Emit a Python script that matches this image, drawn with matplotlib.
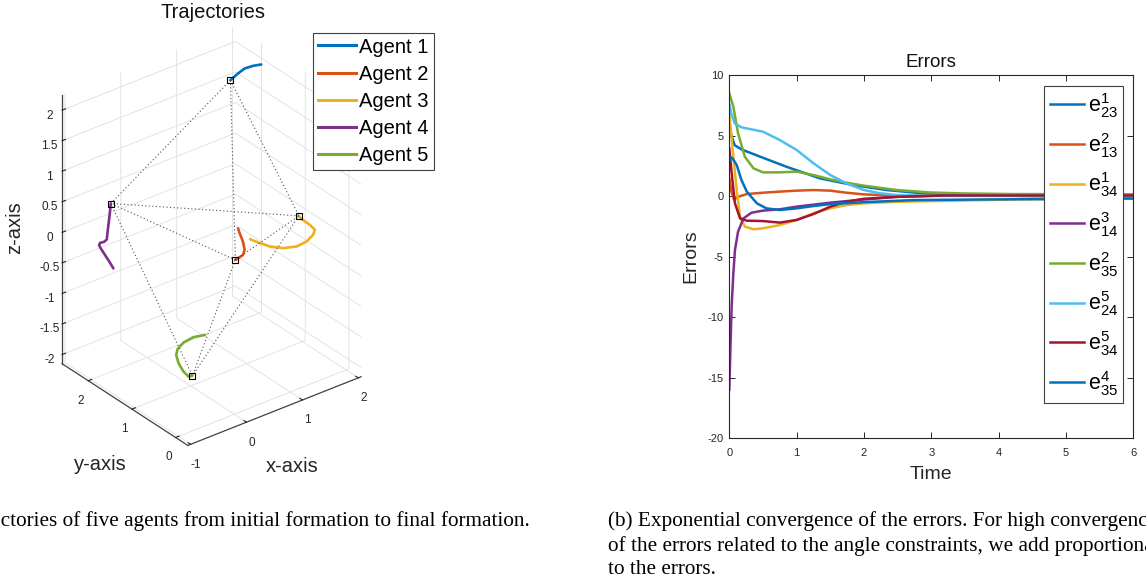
import numpy as np
import matplotlib
matplotlib.use('Agg')
import matplotlib.pyplot as plt
from matplotlib.lines import Line2D
from matplotlib.ticker import FuncFormatter

plt.rcParams['font.family'] = ['Liberation Sans', 'DejaVu Sans']
plt.rcParams['mathtext.fontset'] = 'custom'
plt.rcParams['mathtext.rm'] = 'Liberation Sans'
plt.rcParams['mathtext.it'] = 'Liberation Sans'
plt.rcParams['mathtext.bf'] = 'Liberation Sans:bold'
plt.rcParams['axes.unicode_minus'] = False
plt.rcParams['grid.color'] = '#e3e3e3'
plt.rcParams['grid.linewidth'] = 0.7
plt.rcParams['grid.linestyle'] = '-'

W, H = 1146, 582

# ---------------- data: trajectories (left) ----------------
agent_labels = ['Agent 1', 'Agent 2', 'Agent 3', 'Agent 4', 'Agent 5']
agent_colors = ['#0072BD', '#D95319', '#EDB120', '#7E2F8E', '#77AC30']

agent1_x = [1.889, 1.740, 1.592, 1.472, 1.337]
agent1_y = [1.80, 1.80, 1.80, 1.80, 1.80]
agent1_z = [2.053, 2.084, 2.095, 2.057, 1.996]

agent2_x = [1.496, 1.526, 1.585, 1.615, 1.585, 1.496, 1.449]
agent2_y = [1.83, 1.83, 1.83, 1.83, 1.83, 1.83, 1.83]
agent2_z = [-0.499, -0.592, -0.750, -0.897, -0.968, -0.990, -1.000]

agent3_x = [0.673, 0.821, 1.029, 1.266, 1.505, 1.684, 1.801, 1.832, 1.742, 1.594, 1.546]
agent3_y = [0.50, 0.50, 0.50, 0.50, 0.50, 0.50, 0.50, 0.50, 0.50, 0.50, 0.50]
agent3_z = [0.238, 0.129, -0.011, -0.123, -0.183, -0.166, -0.099, -0.028, 0.086, 0.232, 0.304]

agent4_x = [-0.492, -0.551, -0.640, -0.717, -0.747, -0.729, -0.658, -0.610, -0.592, -0.563, -0.538]
agent4_y = [2.14, 2.14, 2.14, 2.14, 2.14, 2.14, 2.14, 2.14, 2.14, 2.14, 2.14]
agent4_z = [-0.579, -0.466, -0.308, -0.171, -0.106, -0.075, -0.084, -0.063, 0.083, 0.290, 0.500]

agent5_x = [0.258, 0.050, -0.128, -0.235, -0.258, -0.217, -0.128, -0.039, 0.032]
agent5_y = [1.00, 1.00, 1.00, 1.00, 1.00, 1.00, 1.00, 1.00, 1.00]
agent5_z = [-1.409, -1.371, -1.395, -1.464, -1.549, -1.699, -1.869, -1.983, -1.997]

# final formation (last point of each trajectory) and its edges
final_x = [1.337, 1.449, 1.546, -0.538, 0.032]
final_y = [1.80, 1.83, 0.50, 2.14, 1.00]
final_z = [1.996, -1.000, 0.304, 0.500, -1.997]
formation_edges = [(0, 1), (0, 2), (0, 3), (1, 2), (1, 3), (2, 3), (1, 4), (2, 4), (3, 4)]

x_lim = (-1.05, 2.05)
y_lim = (-0.28, 2.60)
z_lim = (-2.15, 2.25)
x_ticks = [-1, 0, 1, 2]
y_ticks = [0, 1, 2]
z_ticks = [-2, -1.5, -1, -0.5, 0, 0.5, 1, 1.5, 2]

# ---------------- data: errors (right) ----------------
err_labels = [r'$\mathrm{e}^{1}_{23}$', r'$\mathrm{e}^{2}_{13}$', r'$\mathrm{e}^{1}_{34}$',
              r'$\mathrm{e}^{3}_{14}$', r'$\mathrm{e}^{2}_{35}$', r'$\mathrm{e}^{5}_{24}$',
              r'$\mathrm{e}^{5}_{34}$', r'$\mathrm{e}^{4}_{35}$']
err_colors = ['#0072BD', '#D95319', '#EDB120', '#7E2F8E', '#77AC30', '#4DBEEE', '#A2142F', '#0072BD']

e1_23_t = [0, 0.03, 0.08, 0.18, 0.46, 0.85, 1.35, 1.84, 2.34, 2.83, 3.5, 4.5, 6.0]
e1_23_v = [6.0, 5.0, 4.2, 3.86, 3.25, 2.42, 1.46, 0.91, 0.50, 0.25, 0.08, 0.0, -0.05]

e2_13_t = [0, 0.03, 0.07, 0.13, 0.26, 0.5, 0.75, 1.0, 1.25, 1.5, 1.74, 2.0, 2.5, 3.5, 6.0]
e2_13_v = [1.47, 0.4, -0.3, -0.06, 0.17, 0.28, 0.37, 0.45, 0.50, 0.45, 0.28, 0.14, 0.03, 0.03, 0.08]

e1_34_t = [0, 0.03, 0.06, 0.11, 0.16, 0.23, 0.36, 0.5, 0.75, 1.0, 1.25, 1.5, 1.74, 2.0, 2.49, 3.23, 4.22, 6.0]
e1_34_v = [6.83, 5.0, 3.26, 0.5, -1.7, -2.52, -2.74, -2.66, -2.39, -1.97, -1.42, -1.01, -0.74, -0.6, -0.47, -0.39, -0.28, -0.2]

e3_14_t = [0, 0.01, 0.02, 0.035, 0.06, 0.084, 0.13, 0.21, 0.33, 0.5, 0.75, 1.0, 1.5, 2.0, 2.49, 3.2, 6.0]
e3_14_v = [-16.0, -14.0, -11.9, -9.1, -6.4, -4.45, -2.94, -1.84, -1.37, -1.2, -1.09, -0.87, -0.54, -0.28, -0.06, 0.05, 0.05]

e2_35_t = [0, 0.06, 0.13, 0.23, 0.36, 0.5, 0.75, 1.0, 1.25, 1.5, 1.74, 2.0, 2.49, 2.98, 3.48, 4.22, 6.0]
e2_35_v = [8.49, 7.39, 5.18, 3.26, 2.29, 1.96, 1.96, 2.02, 1.74, 1.38, 1.11, 0.86, 0.5, 0.30, 0.22, 0.17, 0.15]

e5_24_t = [0, 0.03, 0.08, 0.18, 0.5, 0.75, 1.0, 1.25, 1.5, 1.74, 2.0, 2.24, 2.49, 3.0, 6.0]
e5_24_v = [7.66, 6.8, 6.0, 5.68, 5.32, 4.63, 3.81, 2.71, 1.74, 1.05, 0.5, 0.23, 0.08, 0.02, 0.0]

e5_34_t = [0, 0.035, 0.084, 0.16, 0.26, 0.5, 0.75, 1.0, 1.25, 1.5, 1.74, 2.0, 2.49, 3.2, 6.0]
e5_34_v = [3.94, 1.88, -0.6, -1.84, -2.03, -2.06, -2.19, -1.97, -1.48, -0.87, -0.47, -0.22, -0.06, 0.05, 0.05]

e4_35_t = [0, 0.025, 0.05, 0.11, 0.18, 0.26, 0.41, 0.55, 0.75, 1.0, 1.25, 1.5, 2.0, 2.73, 3.72, 6.0]
e4_35_v = [2.9, 3.2, 3.1, 2.57, 1.33, 0.37, -0.6, -1.01, -1.15, -1.01, -0.82, -0.66, -0.5, -0.33, -0.28, -0.2]

captions_a = '(a) Trajectories of five agents from initial formation to final formation.'
captions_b = ['(b) Exponential convergence of the errors. For high convergence rate',
              'of the errors related to the angle constraints, we add proportional gains',
              'to the errors.']

# ---------------- figure ----------------
fig = plt.figure(figsize=(W / 100, H / 100), dpi=100)
fig.patch.set_facecolor('white')

# ----- 3D trajectories -----
ax3 = fig.add_axes([0.02, 0.2, 0.35, 0.7], projection='3d', proj_type='ortho')
ax3.set_facecolor('none')
ax3.view_init(elev=30.5, azim=-128)
ax3.set_xlim(*x_lim)
ax3.set_ylim(*y_lim)
ax3.set_zlim(*z_lim)
ax3.set_box_aspect((x_lim[1] - x_lim[0], y_lim[1] - y_lim[0], z_lim[1] - z_lim[0]))
ax3.set_xticks(x_ticks)
ax3.set_yticks(y_ticks)
ax3.set_zticks(z_ticks)
fmt = FuncFormatter(lambda v, p: '%g' % v)
ax3.xaxis.set_major_formatter(fmt)
ax3.yaxis.set_major_formatter(fmt)
ax3.zaxis.set_major_formatter(fmt)
for axis in (ax3.xaxis, ax3.yaxis, ax3.zaxis):
    axis.set_pane_color((1, 1, 1, 0))
    axis.pane.set_edgecolor('#dcdcdc')
    axis.line.set_color('#404040')
    axis.line.set_linewidth(0.9)
    axis._axinfo['tick']['inward_factor'] = 0.0
    axis._axinfo['tick']['outward_factor'] = 0.25
ax3.tick_params(labelsize=8.5, colors='#262626')
ax3.tick_params(axis='both', pad=-1.5)
ax3.set_zlabel('z-axis', fontsize=14.5, color='#262626')

agents = [(agent1_x, agent1_y, agent1_z), (agent2_x, agent2_y, agent2_z),
          (agent3_x, agent3_y, agent3_z), (agent4_x, agent4_y, agent4_z),
          (agent5_x, agent5_y, agent5_z)]
for (ax_, ay_, az_), c in zip(agents, agent_colors):
    ax3.plot(ax_, ay_, az_, color=c, lw=1.9, solid_capstyle='round')
for i, j in formation_edges:
    ax3.plot([final_x[i], final_x[j]], [final_y[i], final_y[j]], [final_z[i], final_z[j]],
             color='#505050', lw=0.8, ls=(0, (1, 2.2)))
ax3.plot(final_x, final_y, final_z, ls='none', marker='s', ms=5, mfc='none', mec='black', mew=0.8)

# fit projected box to target pixel placement
def to_px(p):
    M = ax3.get_proj()
    v = M @ np.array([p[0], p[1], p[2], 1.0])
    return ax3.transData.transform((v[0] / v[3], v[1] / v[3]))

cen = ((x_lim[0] + x_lim[1]) / 2, (y_lim[0] + y_lim[1]) / 2, (z_lim[0] + z_lim[1]) / 2)
p_left = (x_lim[0], y_lim[1], z_lim[0])
p_right = (x_lim[1], y_lim[0], z_lim[0])
target_c = (211.6, H - 235.8)
target_span = 299.0
for _ in range(3):
    fig.canvas.draw()
    pc, pl, pr = to_px(cen), to_px(p_left), to_px(p_right)
    k = target_span / (pr[0] - pl[0])
    bb = ax3.get_position()
    cx, cy = (bb.x0 + bb.x1) / 2 * W, (bb.y0 + bb.y1) / 2 * H
    side = bb.width * W * k
    ncx = target_c[0] - (pc[0] - cx) * k
    ncy = target_c[1] - (pc[1] - cy) * k
    ax3.set_position([(ncx - side / 2) / W, (ncy - side / 2) / H, side / W, side / H])

# titles / axis labels of the 3D panel (MATLAB keeps them horizontal)
fig.text(213 / W, 1 - 12 / H, 'Trajectories', ha='center', va='center', fontsize=14.5, color='#111111')
fig.text(100 / W, 1 - 464 / H, 'y-axis', ha='center', va='center', fontsize=14.5, color='#262626')
fig.text(292 / W, 1 - 467 / H, 'x-axis', ha='center', va='center', fontsize=14.5, color='#262626')

handles = [Line2D([], [], color=c, lw=2.2) for c in agent_colors]
leg1 = fig.legend(handles, agent_labels, loc='upper right',
                  bbox_to_anchor=(433.5 / W, 1 - 32.5 / H), bbox_transform=fig.transFigure,
                  fontsize=14.5, frameon=True, fancybox=False, framealpha=1,
                  edgecolor='#404040', handlelength=1.9, handletextpad=0.15,
                  labelspacing=0.4, borderpad=0.25, borderaxespad=0)
leg1.get_frame().set_linewidth(0.8)

# ----- 2D errors -----
ax2 = fig.add_axes([729.3 / W, 1 - 438.3 / H, 404.0 / W, 363.3 / H])
series = [(e1_23_t, e1_23_v), (e2_13_t, e2_13_v), (e1_34_t, e1_34_v), (e3_14_t, e3_14_v),
          (e2_35_t, e2_35_v), (e5_24_t, e5_24_v), (e5_34_t, e5_34_v), (e4_35_t, e4_35_v)]
for (t, v), c, lab in zip(series, err_colors, err_labels):
    ax2.plot(t, v, color=c, lw=1.8, label=lab)
ax2.set_xlim(0, 6)
ax2.set_ylim(-20, 10)
ax2.set_xticks(range(0, 7))
ax2.set_yticks(range(-20, 11, 5))
ax2.tick_params(direction='in', top=True, right=True, length=4, width=0.7,
                labelsize=8, colors='#262626')
ax2.tick_params(axis='x', pad=7)
ax2.tick_params(axis='y', pad=4)
for s in ax2.spines.values():
    s.set_color('#262626')
    s.set_linewidth(0.8)
ax2.set_title('Errors', fontsize=13.5, pad=6, color='#111111')
ax2.set_xlabel('Time', fontsize=14, labelpad=6, color='#262626')
ax2.set_ylabel('Errors', fontsize=14, labelpad=6, color='#262626')
leg2 = ax2.legend(loc='upper right', bbox_to_anchor=((1123.3 - 729.3) / 404.0, 1 - (85.7 - 75) / 363.3),
                  fontsize=15.5, frameon=True, fancybox=False, framealpha=1, edgecolor='#404040',
                  handlelength=1.6, handletextpad=0.15, labelspacing=0.5, borderpad=0.25,
                  borderaxespad=0)
leg2.get_frame().set_linewidth(0.8)

# ----- captions -----
fig.text(530 / W, 1 - 521 / H, captions_a, ha='right', va='center',
         family=['Liberation Serif', 'DejaVu Serif'], fontsize=15.3)
for line, yy in zip(captions_b, [521, 546, 569]):
    fig.text(608 / W, 1 - yy / H, line, ha='left', va='center',
             family=['Liberation Serif', 'DejaVu Serif'], fontsize=15.3)

fig.savefig('out.png', dpi=100, facecolor='white')
